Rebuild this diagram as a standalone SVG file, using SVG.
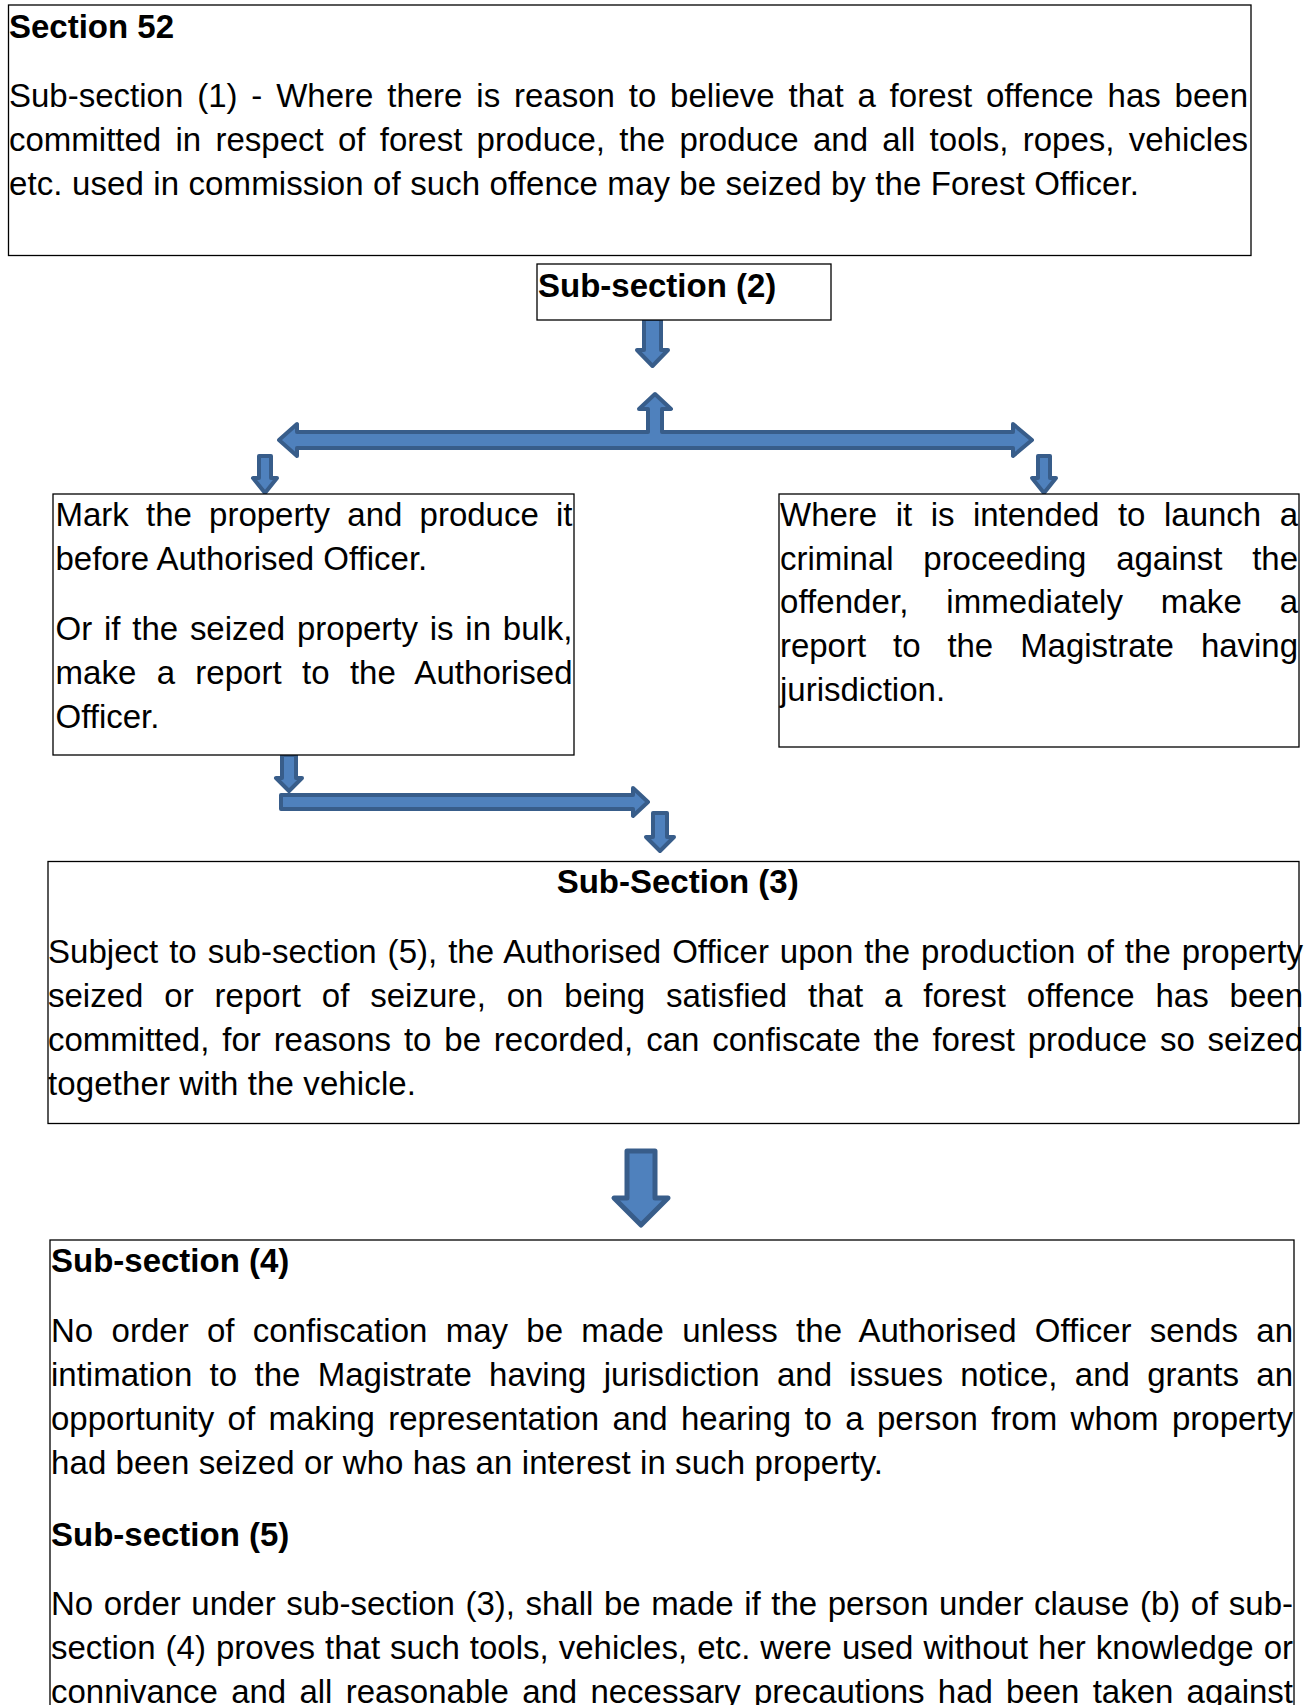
<svg xmlns="http://www.w3.org/2000/svg" width="1314" height="1705" viewBox="0 0 1314 1705">
<style>
.t{font-family:"Liberation Sans",Arial,sans-serif;font-size:33px;fill:#000}
.b{font-weight:bold}
.box{fill:#fff;stroke:#000;stroke-width:1.3}
.arr{fill:#4f81bd;stroke:#385d8a;stroke-width:4;stroke-linejoin:round}
</style>
<rect width="1314" height="1705" fill="#fff"/>
<g id="connectors">
<path class="arr" d="M644,319 L661,319 L661,350 L668,350 L652.5,366 L637,350 L644,350 Z"/>
<path class="arr" d="M279,440 L297,424 L297,432 L648,432 L648,409 L639,409 L655,394 L671,409 L662,409 L662,432 L1013,432 L1013,424 L1032,440 L1013,456 L1013,448 L297,448 L297,456 Z"/>
<path class="arr" d="M259,456 L271,456 L271,478 L277,478 L265,493 L253,478 L259,478 Z"/>
<path class="arr" d="M1038,456 L1050,456 L1050,478 L1056,478 L1044,493 L1032,478 L1038,478 Z"/>
<path class="arr" d="M282,755 L296,755 L296,778 L302,778 L289,791 L276,778 L282,778 Z"/>
<path class="arr" d="M281,795 L633,795 L633,788 L648,802 L633,816 L633,809 L281,809 Z"/>
<path class="arr" d="M653,813 L667,813 L667,837 L674,837 L660,851 L646,837 L653,837 Z"/>
<path class="arr" style="stroke-width:5" d="M627,1151 L655,1151 L655,1198 L668,1198 L641,1225 L614,1198 L627,1198 Z"/>
</g>
<g id="section52">
<rect class="box" x="8.5" y="5" width="1242.5" height="250.5"/>
<text class="t b" x="9" y="38">Section 52</text>
<text class="t" x="9" y="107" word-spacing="4.65" textLength="1239" lengthAdjust="spacing">Sub-section (1) - Where there is reason to believe that a forest offence has been</text>
<text class="t" x="9" y="151" word-spacing="5.1" textLength="1239" lengthAdjust="spacing">committed in respect of forest produce, the produce and all tools, ropes, vehicles</text>
<text class="t" x="9" y="195" textLength="1130" lengthAdjust="spacing">etc. used in commission of such offence may be seized by the Forest Officer.</text>
</g>
<g id="subsection2">
<rect class="box" x="537" y="264" width="294" height="56"/>
<text class="t b" x="538" y="297">Sub-section (2)</text>
</g>
<g id="mark-property">
<rect class="box" x="53" y="494" width="521" height="261"/>
<text class="t" x="55.5" y="526" word-spacing="8.1" textLength="517" lengthAdjust="spacing">Mark the property and produce it</text>
<text class="t" x="55.5" y="570">before Authorised Officer.</text>
<text class="t" x="55.5" y="640" word-spacing="2.66" textLength="517" lengthAdjust="spacing">Or if the seized property is in bulk,</text>
<text class="t" x="55.5" y="684" word-spacing="11.06" textLength="517" lengthAdjust="spacing">make a report to the Authorised</text>
<text class="t" x="55.5" y="728">Officer.</text>
</g>
<g id="criminal-proceeding">
<rect class="box" x="779" y="494" width="520" height="253"/>
<text class="t" x="780" y="526" word-spacing="9.4" textLength="518" lengthAdjust="spacing">Where it is intended to launch a</text>
<text class="t" x="780" y="570" word-spacing="20.6" textLength="518" lengthAdjust="spacing">criminal proceeding against the</text>
<text class="t" x="780" y="613" word-spacing="28.6" textLength="518" lengthAdjust="spacing">offender, immediately make a</text>
<text class="t" x="780" y="657" word-spacing="17.8" textLength="518" lengthAdjust="spacing">report to the Magistrate having</text>
<text class="t" x="780" y="701">jurisdiction.</text>
</g>
<g id="subsection3">
<rect class="box" x="48" y="861.5" width="1251" height="262"/>
<text class="t b" x="677.7" y="893" text-anchor="middle">Sub-Section (3)</text>
<text class="t" x="48" y="963" word-spacing="1.7" textLength="1255" lengthAdjust="spacing">Subject to sub-section (5), the Authorised Officer upon the production of the property</text>
<text class="t" x="48" y="1007" word-spacing="11.7" textLength="1255" lengthAdjust="spacing">seized or report of seizure, on being satisfied that a forest offence has been</text>
<text class="t" x="48" y="1051" word-spacing="3.7" textLength="1255" lengthAdjust="spacing">committed, for reasons to be recorded, can confiscate the forest produce so seized</text>
<text class="t" x="48" y="1095" textLength="368" lengthAdjust="spacing">together with the vehicle.</text>
</g>
<g id="subsection4-5">
<rect class="box" x="50" y="1240" width="1244" height="500"/>
<text class="t b" x="51" y="1272">Sub-section (4)</text>
<text class="t" x="51" y="1342" word-spacing="9.04" textLength="1242" lengthAdjust="spacing">No order of confiscation may be made unless the Authorised Officer sends an</text>
<text class="t" x="51" y="1386" word-spacing="8.19" textLength="1242" lengthAdjust="spacing">intimation to the Magistrate having jurisdiction and issues notice, and grants an</text>
<text class="t" x="51" y="1430" word-spacing="4.19" textLength="1242" lengthAdjust="spacing">opportunity of making representation and hearing to a person from whom property</text>
<text class="t" x="51" y="1474" textLength="832" lengthAdjust="spacing">had been seized or who has an interest in such property.</text>
<text class="t b" x="51" y="1546">Sub-section (5)</text>
<text class="t" x="51" y="1615" word-spacing="1.37" textLength="1242" lengthAdjust="spacing">No order under sub-section (3), shall be made if the person under clause (b) of sub-</text>
<text class="t" x="51" y="1659" word-spacing="0.87" textLength="1242" lengthAdjust="spacing">section (4) proves that such tools, vehicles, etc. were used without her knowledge or</text>
<text class="t" x="51" y="1703" word-spacing="4.05" textLength="1242" lengthAdjust="spacing">connivance and all reasonable and necessary precautions had been taken against</text>
</g>
</svg>
